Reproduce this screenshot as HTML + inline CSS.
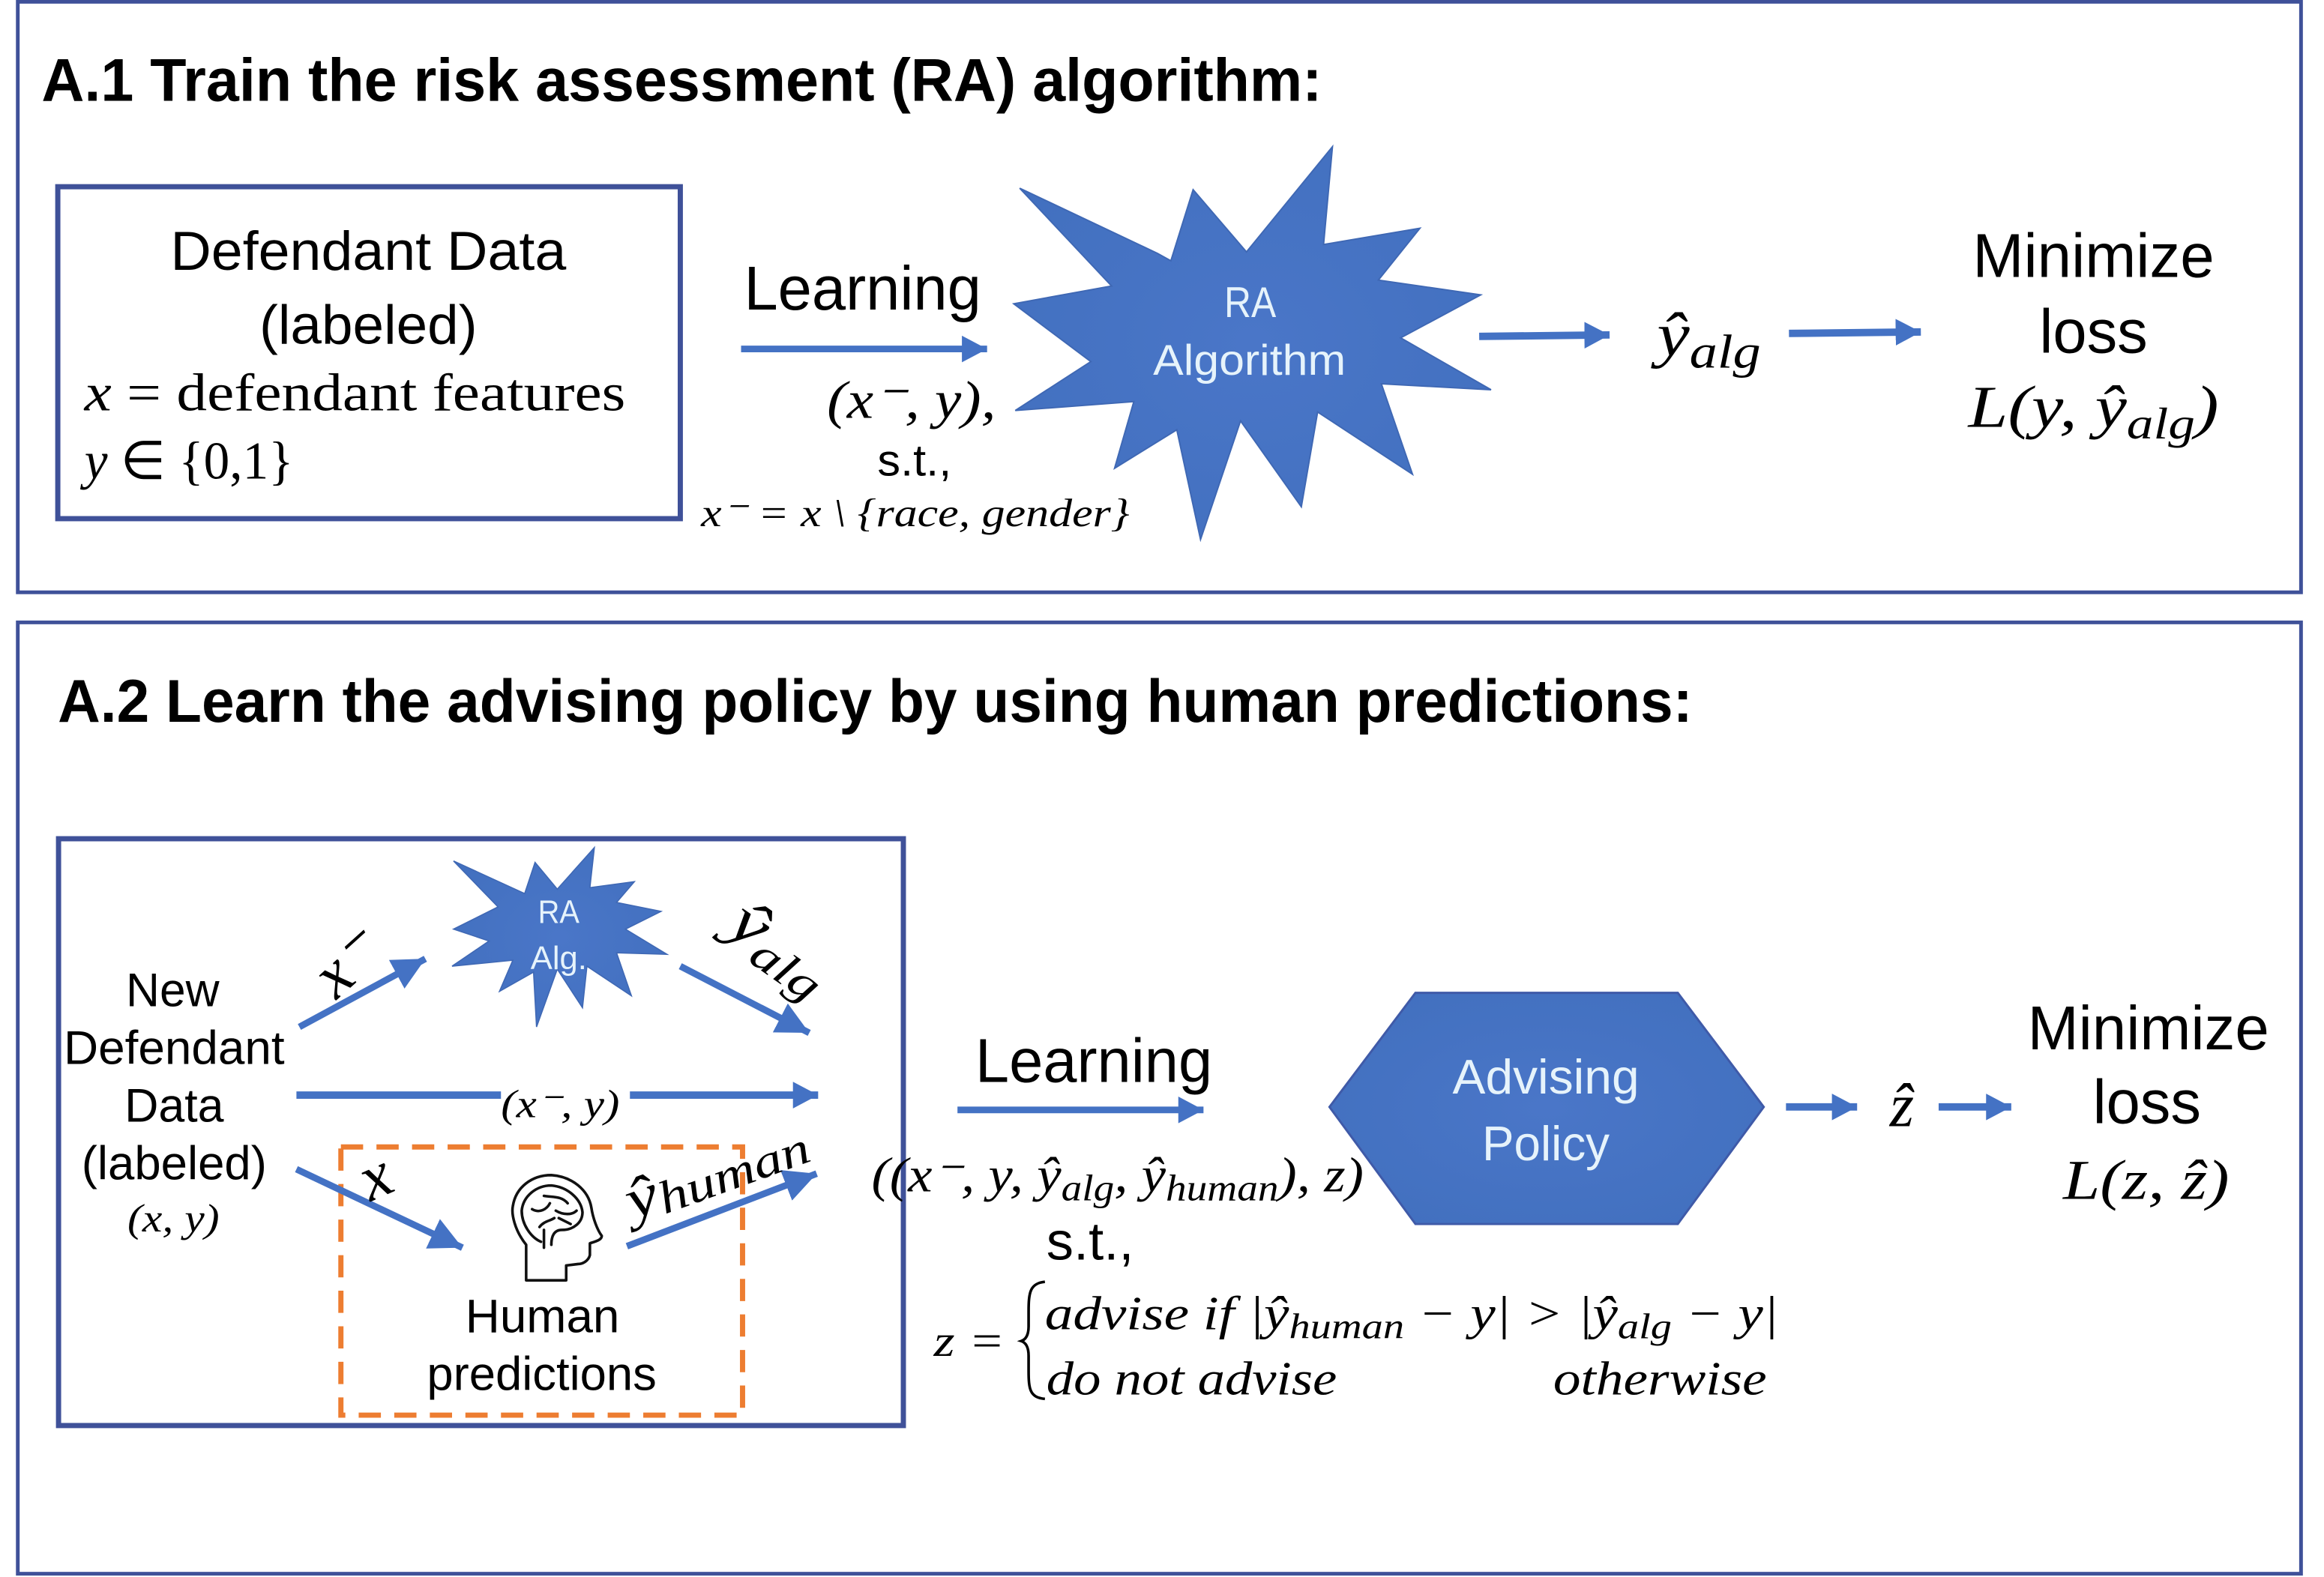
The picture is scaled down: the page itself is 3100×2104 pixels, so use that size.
<!DOCTYPE html>
<html lang="en"><head><meta charset="utf-8"><title>A.1 and A.2 diagram</title>
<style>
html,body{margin:0;padding:0;background:#fff}
svg{display:block}
text{fill:#000;font-family:"Liberation Sans",sans-serif;white-space:pre}
.m{font-family:"Liberation Serif",serif;font-style:italic}
.r{font-family:"Liberation Serif",serif;font-style:normal}
.w{fill:#e6f3fb}
</style></head><body>
<svg xmlns="http://www.w3.org/2000/svg" width="3100" height="2104" viewBox="0 0 1568 1064.2">
<defs>
<marker id="a" markerUnits="userSpaceOnUse" markerWidth="22" markerHeight="22" refX="17" refY="11" orient="auto"><path d="M0 2L17 11L0 20Z" fill="#4472c4"/></marker>
<marker id="b" markerUnits="userSpaceOnUse" markerWidth="26" markerHeight="26" refX="22" refY="13" orient="auto"><path d="M0 2L22 13L0 24Z" fill="#4472c4"/></marker>
<radialGradient id="g" cx=".5" cy=".5" r=".6"><stop offset="0" stop-color="#4a76c8"/><stop offset="1" stop-color="#4270bf"/></radialGradient>
</defs>
<rect width="1568" height="1065" fill="#fff"/>
<!-- frames -->
<rect x="12" y="1.2" width="1540.5" height="398.5" fill="none" stroke="#3f5199" stroke-width="2.5"/>
<rect x="12" y="420" width="1540.5" height="642" fill="none" stroke="#3f5199" stroke-width="2.5"/>
<text x="28" y="68" font-size="41" font-weight="700" textLength="864" lengthAdjust="spacingAndGlyphs">A.1 Train the risk assessment (RA) algorithm:</text>
<text x="39" y="487" font-size="41" font-weight="700" textLength="1103" lengthAdjust="spacingAndGlyphs">A.2 Learn the advising policy by using human predictions:</text>

<!-- A.1 -->
<rect x="39" y="126" width="420" height="224" fill="#fff" stroke="#3f5199" stroke-width="3.5"/>
<text x="115" y="182" font-size="37" textLength="267" lengthAdjust="spacingAndGlyphs">Defendant Data</text>
<text x="175" y="232" font-size="37" textLength="147" lengthAdjust="spacingAndGlyphs">(labeled)</text>
<text x="57" y="277" font-size="36" class="r" textLength="365" lengthAdjust="spacingAndGlyphs"><tspan class="m">x</tspan> = defendant features</text>
<text x="57" y="323" font-size="36" class="r" textLength="141" lengthAdjust="spacingAndGlyphs"><tspan class="m">y</tspan> ∈ {0,1}</text>
<text x="502" y="209" font-size="42" textLength="160" lengthAdjust="spacingAndGlyphs">Learning</text>
<line x1="500" y1="235.500" x2="666" y2="235.500" stroke="#4472c4" stroke-width="4.500" marker-end="url(#a)"/>
<text x="558" y="282" font-size="36" class="m" textLength="114" lengthAdjust="spacingAndGlyphs">(x⁻, y),</text>
<text x="592" y="321" font-size="30" textLength="50" lengthAdjust="spacingAndGlyphs">s.t.,</text>
<text x="473" y="355" font-size="27" class="m" textLength="289" lengthAdjust="spacingAndGlyphs">x⁻ = x \ {race, gender}</text>

<polygon fill="url(#g)" stroke="#3f68b4" stroke-width="1" points="688,127 781,171 790,176 805,128 841,170 899,99 893,165 958,154 930,189 999,199 945,228 1006,263 932,259 953,320 889,278 878,342 837,284 810,364 794,290 752,316 765,271 685,277 736,244 684,205 750,193"/>
<text x="826" y="214" font-size="29" class="w" textLength="35" lengthAdjust="spacingAndGlyphs">RA</text>
<text x="778" y="253" font-size="29" class="w" textLength="130" lengthAdjust="spacingAndGlyphs">Algorithm</text>
<line x1="998" y1="227" x2="1086" y2="226" stroke="#4472c4" stroke-width="5" marker-end="url(#a)"/>
<line x1="1207" y1="225" x2="1296" y2="224" stroke="#4472c4" stroke-width="5" marker-end="url(#a)"/>
<text x="1118" y="240" font-size="42" class="m" textLength="70" lengthAdjust="spacingAndGlyphs">ŷ<tspan font-size="32" dy="8">alg</tspan></text>
<text x="1331" y="187" font-size="42" textLength="163" lengthAdjust="spacingAndGlyphs">Minimize</text>
<text x="1376" y="238" font-size="42" textLength="73" lengthAdjust="spacingAndGlyphs">loss</text>
<text x="1328" y="288" font-size="40" class="m" textLength="169" lengthAdjust="spacingAndGlyphs">L(y, ŷ<tspan font-size="30" dy="8">alg</tspan><tspan dy="-8">)</tspan></text>

<!-- A.2 left box -->
<rect x="39.500" y="566" width="570" height="396" fill="none" stroke="#3f5199" stroke-width="3.500"/>
<polygon fill="url(#g)" stroke="#3f68b4" stroke-width=".8" points="306,581 336,612 306,627 330,635 305,652 346,648 337,669 360,656 362,693 376,654 393,680 396,652 426,672 416,643 450,644 422,627 446,615 416,609 428,595 398,599 401,572 376,600 361,582 354,603"/>
<text x="363" y="623" font-size="22" class="w" textLength="28" lengthAdjust="spacingAndGlyphs">RA</text>
<text x="358" y="654" font-size="22" class="w" textLength="38" lengthAdjust="spacingAndGlyphs">Alg.</text>
<text x="85" y="679" font-size="32" textLength="63" lengthAdjust="spacingAndGlyphs">New</text>
<text x="43" y="718" font-size="32" textLength="149" lengthAdjust="spacingAndGlyphs">Defendant</text>
<text x="84" y="757" font-size="32" textLength="67" lengthAdjust="spacingAndGlyphs">Data</text>
<text x="55" y="796" font-size="32" textLength="125" lengthAdjust="spacingAndGlyphs">(labeled)</text>
<text x="86" y="831" font-size="27" class="m" textLength="62" lengthAdjust="spacingAndGlyphs">(x, y)</text>

<line x1="202" y1="693" x2="287" y2="647" stroke="#4472c4" stroke-width="4.500" marker-end="url(#b)"/>
<line x1="459" y1="652" x2="546" y2="697" stroke="#4472c4" stroke-width="4.500" marker-end="url(#b)"/>
<line x1="200" y1="739" x2="338" y2="739" stroke="#4472c4" stroke-width="5"/>
<line x1="425" y1="739" x2="552" y2="739" stroke="#4472c4" stroke-width="5" marker-end="url(#a)"/>
<text x="338" y="754" font-size="27" class="m" textLength="80" lengthAdjust="spacingAndGlyphs">(x⁻, y)</text>
<rect x="230" y="774" width="271" height="181" fill="none" stroke="#ed7d31" stroke-width="3.500" stroke-dasharray="15 9"/>
<line x1="200" y1="789" x2="312" y2="842" stroke="#4472c4" stroke-width="4.500" marker-end="url(#b)"/>
<line x1="423" y1="841" x2="551" y2="792" stroke="#4472c4" stroke-width="4.500" marker-end="url(#b)"/>
<text transform="translate(227 675) rotate(-42)" font-size="44" class="m">x⁻</text>
<text transform="translate(489 628) rotate(35)" font-size="42" class="m" textLength="74" lengthAdjust="spacingAndGlyphs">ŷ<tspan font-size="31" dy="8">alg</tspan></text>
<text transform="translate(250 811) rotate(-24)" font-size="44" class="m">x</text>
<text transform="translate(427 823) rotate(-20)" font-size="38" class="m" textLength="128" lengthAdjust="spacingAndGlyphs">ŷ<tspan font-size="31" dy="4">human</tspan></text>

<!-- head -->
<g transform="translate(1 4)" fill="none" stroke="#111" stroke-width="1.800" stroke-linejoin="round" stroke-linecap="round">
<path d="M354 860V836C346 826 344 815 345 810C347 797 358 789 371 789C385 790 396 799 398 811C399 818 402 826 405 830C405 833 400 834 397 835V843C396 847 392 849 389 849L381 850V860Z"/>
<path d="M364 834C357 831 351 822 351 813C352 803 361 796 371 796C382 797 391 805 392 814C392 821 386 826 378 826C373 826 371 830 371 836"/>
<path d="M363 824C366 820 370 820 373 818M358 812C363 815 368 812 370 808M366 803C372 804 378 803 382 808M374 813C379 816 385 816 388 813M376 818L384 822M366 826V838"/>
</g>
<text x="314" y="899" font-size="32" textLength="104" lengthAdjust="spacingAndGlyphs">Human</text>
<text x="288" y="938" font-size="32" textLength="155" lengthAdjust="spacingAndGlyphs">predictions</text>

<!-- A.2 right -->
<text x="658" y="730" font-size="42" textLength="160" lengthAdjust="spacingAndGlyphs">Learning</text>
<line x1="646" y1="749" x2="812" y2="749" stroke="#4472c4" stroke-width="4.500" marker-end="url(#a)"/>
<polygon points="955,670 1132,670 1190,747 1132,826 955,826 897,747" fill="url(#g)" stroke="#3f5aa8" stroke-width="1.500"/>
<text x="980" y="738" font-size="33" class="w" textLength="126" lengthAdjust="spacingAndGlyphs">Advising</text>
<text x="1000" y="783" font-size="33" class="w" textLength="86" lengthAdjust="spacingAndGlyphs">Policy</text>
<line x1="1205" y1="747" x2="1253" y2="747" stroke="#4472c4" stroke-width="5" marker-end="url(#a)"/>
<line x1="1308" y1="747" x2="1357" y2="747" stroke="#4472c4" stroke-width="5" marker-end="url(#a)"/>
<text x="1275" y="760" font-size="42" class="m">ẑ</text>
<text x="1368" y="708" font-size="42" textLength="163" lengthAdjust="spacingAndGlyphs">Minimize</text>
<text x="1412" y="758" font-size="42" textLength="73" lengthAdjust="spacingAndGlyphs">loss</text>
<text x="1392" y="809" font-size="38" class="m" textLength="112" lengthAdjust="spacingAndGlyphs">L(z, ẑ)</text>
<text x="588" y="804" font-size="33" class="m" textLength="332" lengthAdjust="spacingAndGlyphs">((x⁻, y, ŷ<tspan font-size="25" dy="6">alg</tspan><tspan dy="-6">, ŷ</tspan><tspan font-size="25" dy="6">human</tspan><tspan dy="-6">), z)</tspan></text>
<text x="706" y="850" font-size="36" textLength="59" lengthAdjust="spacingAndGlyphs">s.t.,</text>
<text x="630" y="915" font-size="30" class="m" textLength="48" lengthAdjust="spacingAndGlyphs">z =</text>
<path d="M705 865C695 866 694 872 694 885V895C694 901 692 904 689 905C692 906 694 909 694 915V925C694 938 695 943 705 944" fill="none" stroke="#000" stroke-width="1.800"/>
<text x="705" y="897" font-size="32" class="m" textLength="495" lengthAdjust="spacingAndGlyphs">advise if |ŷ<tspan font-size="24" dy="6">human</tspan><tspan dy="-6"> − y| &gt; |ŷ</tspan><tspan font-size="24" dy="6">alg</tspan><tspan dy="-6"> − y|</tspan></text>
<text x="706" y="941" font-size="32" class="m" textLength="196" lengthAdjust="spacingAndGlyphs">do not advise</text>
<text x="1048" y="941" font-size="32" class="m" textLength="144" lengthAdjust="spacingAndGlyphs">otherwise</text>
</svg>
</body></html>
